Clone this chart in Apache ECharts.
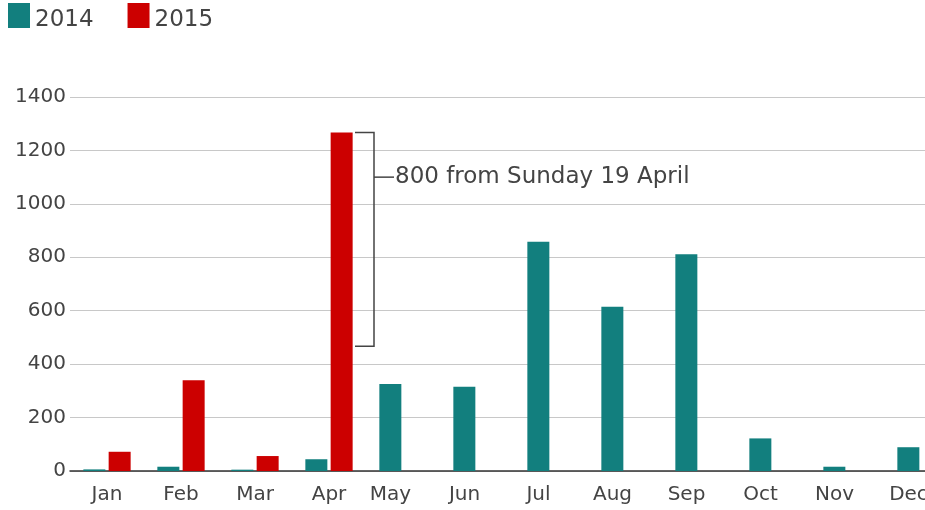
<!DOCTYPE html>
<html lang="en">
<head>
    <meta charset="UTF-8">
    <title>2014 / 2015</title>
    <script src="https://cdn.jsdelivr.net/npm/echarts@6/dist/echarts.min.js"></script>
    <style>
        html, body { margin: 0; padding: 0; background: #fff; overflow: hidden; }
        /* the last month is cut off by the right edge in the original, so the chart is wider than the window */
        #main { width: 960px; height: 510px; }
    </style>
</head>
<body>
<div id="main"></div>

<script>
    // data
    var months = ['Jan', 'Feb', 'Mar', 'Apr', 'May', 'Jun', 'Jul', 'Aug', 'Sep', 'Oct', 'Nov', 'Dec'];
    var values2014 = [6, 16, 5, 44, 326, 315, 858, 615, 811, 122, 16, 89];
    var values2015 = [72, 340, 56, 1267];
    var annotationDrop = 800;      // size of the bracket
    var annotationAt = 1100;       // where the label hangs off the bracket
    var annotationText = '800 from Sunday 19 April';

    var teal = '#127f7e';
    var red = '#cc0000';
    var font = 'DejaVu Sans';

    // 2015 only runs to April, the rest of its slots stay empty
    var padded2015 = months.map(function (m, i) {
        return i < values2015.length ? values2015[i] : null;
    });

    var myChart = echarts.init(document.getElementById('main'));

    var option = {
        animation: false,
        textStyle: { fontFamily: font },
        legend: {
            data: ['2014', '2015'],
            left: 3,
            top: -2,
            icon: 'rect',
            itemWidth: 22,
            itemHeight: 25,
            itemGap: 34,
            formatter: '{t|{name}}',
            textStyle: {
                fontFamily: font, fontSize: 23, color: '#444',
                rich: { t: { fontFamily: font, fontSize: 23, color: '#444', padding: [10, 0, 0, 0] } }
            }
        },
        grid: { left: 70, top: 97, right: 2, height: 374 },
        xAxis: {
            type: 'category',
            data: months,
            axisTick: { show: false },
            axisLine: { lineStyle: { color: '#333', width: 1.5 } },
            axisLabel: {
                interval: 0,
                hideOverlap: false,
                fontFamily: font, fontSize: 20, color: '#444', margin: 14,
                // label sits under the bars that are there: the pair, or the lone 2014 bar
                formatter: function (v, i) {
                    return i < values2015.length ? '{p|' + v + '}' : '{s|' + v + '}';
                },
                rich: {
                    p: { fontFamily: font, fontSize: 20, color: '#444' },
                    s: { fontFamily: font, fontSize: 20, color: '#444', padding: [0, 25, 0, 0] }
                }
            }
        },
        yAxis: {
            type: 'value',
            min: 0,
            max: 1400,
            interval: 200,
            axisLine: { show: false },
            axisTick: { show: false },
            axisLabel: {
                fontFamily: font, fontSize: 20, color: '#444', margin: 4,
                formatter: function (v) { return String(v); }
            },
            splitLine: { lineStyle: { color: '#c8c8c8', width: 1 } }
        },
        series: [
            {
                name: '2014',
                type: 'bar',
                data: values2014,
                barWidth: 22,
                barGap: '15%',
                itemStyle: { color: teal }
            },
            {
                name: '2015',
                type: 'bar',
                data: padded2015,
                barWidth: 22,
                barGap: '15%',
                itemStyle: { color: red }
            }
        ]
    };

    myChart.setOption(option);

    // bracket next to the April 2015 bar
    var xApr = myChart.convertToPixel({ xAxisIndex: 0 }, months[3]);
    var yTop = myChart.convertToPixel({ yAxisIndex: 0 }, values2015[3]);
    var yBot = myChart.convertToPixel({ yAxisIndex: 0 }, values2015[3] - annotationDrop);
    var yMid = myChart.convertToPixel({ yAxisIndex: 0 }, annotationAt);
    var xIn = xApr + 26;
    var xBr = xApr + 45;

    myChart.setOption({
        graphic: [
            {
                type: 'polyline',
                shape: { points: [[xIn, yTop], [xBr, yTop], [xBr, yBot], [xIn, yBot]] },
                style: { stroke: '#444', lineWidth: 1.5, fill: null }
            },
            {
                type: 'line',
                shape: { x1: xBr, y1: yMid, x2: xBr + 20, y2: yMid },
                style: { stroke: '#444', lineWidth: 1.5 }
            },
            {
                type: 'text',
                x: xBr + 21,
                y: yMid,
                style: {
                    text: annotationText,
                    fontFamily: font,
                    fontSize: 23,
                    fill: '#444',
                    verticalAlign: 'middle'
                }
            }
        ]
    });
</script>

</body>
</html>
